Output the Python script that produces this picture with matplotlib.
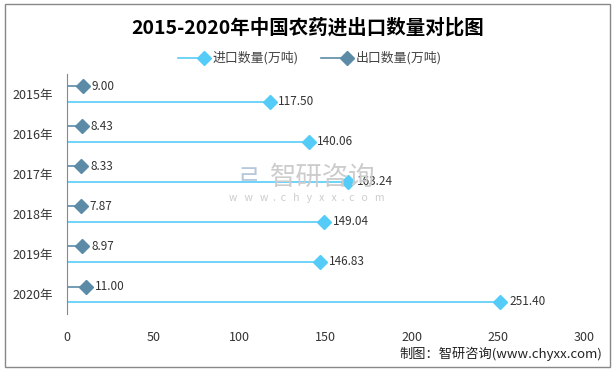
import matplotlib.pyplot as plt
import numpy as np
from matplotlib.patches import Rectangle
from matplotlib.lines import Line2D

plt.rcParams['font.family'] = ['Noto Sans CJK SC', 'DejaVu Sans']

years = ['2015年', '2016年', '2017年', '2018年', '2019年', '2020年']
imports = [117.50, 140.06, 163.24, 149.04, 146.83, 251.40]
exports = [9.00, 8.43, 8.33, 7.87, 8.97, 11.00]
series_names = ['进口数量(万吨)', '出口数量(万吨)']

c_imp = '#55CCF7'
c_exp = '#5B8BA6'

fig = plt.figure(figsize=(6.15, 3.7), dpi=100)
ax = fig.add_axes([0.109, 0.151, 0.841, 0.649])

y = np.arange(len(years))
off = 0.19

for i in range(len(years)):
    ax.plot([0, imports[i]], [y[i] + off] * 2, color=c_imp, lw=1.2,
            zorder=2)
    ax.plot([0, exports[i]], [y[i] - off] * 2, color=c_exp, lw=1.2,
            zorder=2)
ax.plot(imports, y + off, 'D', color=c_imp, ms=7.5, zorder=3)
ax.plot(exports, y - off, 'D', color=c_exp, ms=7.5, zorder=3)

for i in range(len(years)):
    ax.text(imports[i] + 5, y[i] + off, '%.2f' % imports[i], va='center',
            ha='left', fontsize=8.5, color='#333333', zorder=4)
    ax.text(exports[i] + 5, y[i] - off, '%.2f' % exports[i], va='center',
            ha='left', fontsize=8.5, color='#333333', zorder=4)

ax.set_xlim(0, 300)
ax.set_ylim(len(years) - 0.5, -0.5)
ax.set_xticks(np.arange(0, 301, 50))
ax.set_yticks(y)
ax.set_yticklabels(years)
ax.tick_params(length=0, labelsize=9, labelcolor='#333333')
ax.tick_params(axis='x', pad=12)
ax.tick_params(axis='y', pad=10)
for s in ['top', 'right', 'bottom']:
    ax.spines[s].set_visible(False)
ax.spines['left'].set_color('#888888')

# legend: line then diamond, drawn by hand
W, H = 615.0, 370.0
ly = 1 - 58 / H
for x0, col, name in [(178, c_imp, series_names[0]),
                      (321, c_exp, series_names[1])]:
    fig.lines.append(Line2D([x0 / W, (x0 + 24) / W], [ly, ly], color=col,
                            lw=1.2, transform=fig.transFigure))
    fig.lines.append(Line2D([(x0 + 26) / W], [ly], marker='D', ms=7.5,
                            color=col, transform=fig.transFigure))
    fig.text((x0 + 35) / W, ly, name, ha='left', va='center', fontsize=9.3,
             color='#444444')

fig.text(0.5, 0.925, '2015-2020年中国农药进出口数量对比图', ha='center',
         va='center', fontsize=14, fontweight='bold', color='black')

# watermark
fig.text(323 / W, 1 - 177 / H, '智研咨询', ha='center', va='center',
         fontsize=19, color='#cccccc', zorder=1)
fig.text(307 / W, 1 - 198 / H, 'w   w   w  .  c   h   y   x   x  .  c   o   m',
         ha='center', va='center', fontsize=7.5, color='#cccccc')
fig.text(249 / W, 1 - 177 / H, 'ㄹ', ha='center', va='center', fontsize=19,
         color='#b8c8dc')

fig.text(0.98, 0.045, '制图：智研咨询(www.chyxx.com)', ha='right',
         va='center', fontsize=9.5, color='#222222')

fig.patches.append(Rectangle((0.008, 0.008), 0.984, 0.98,
                             transform=fig.transFigure, fill=False,
                             edgecolor='#888888', lw=1))

fig.savefig('out.png', dpi=100)
